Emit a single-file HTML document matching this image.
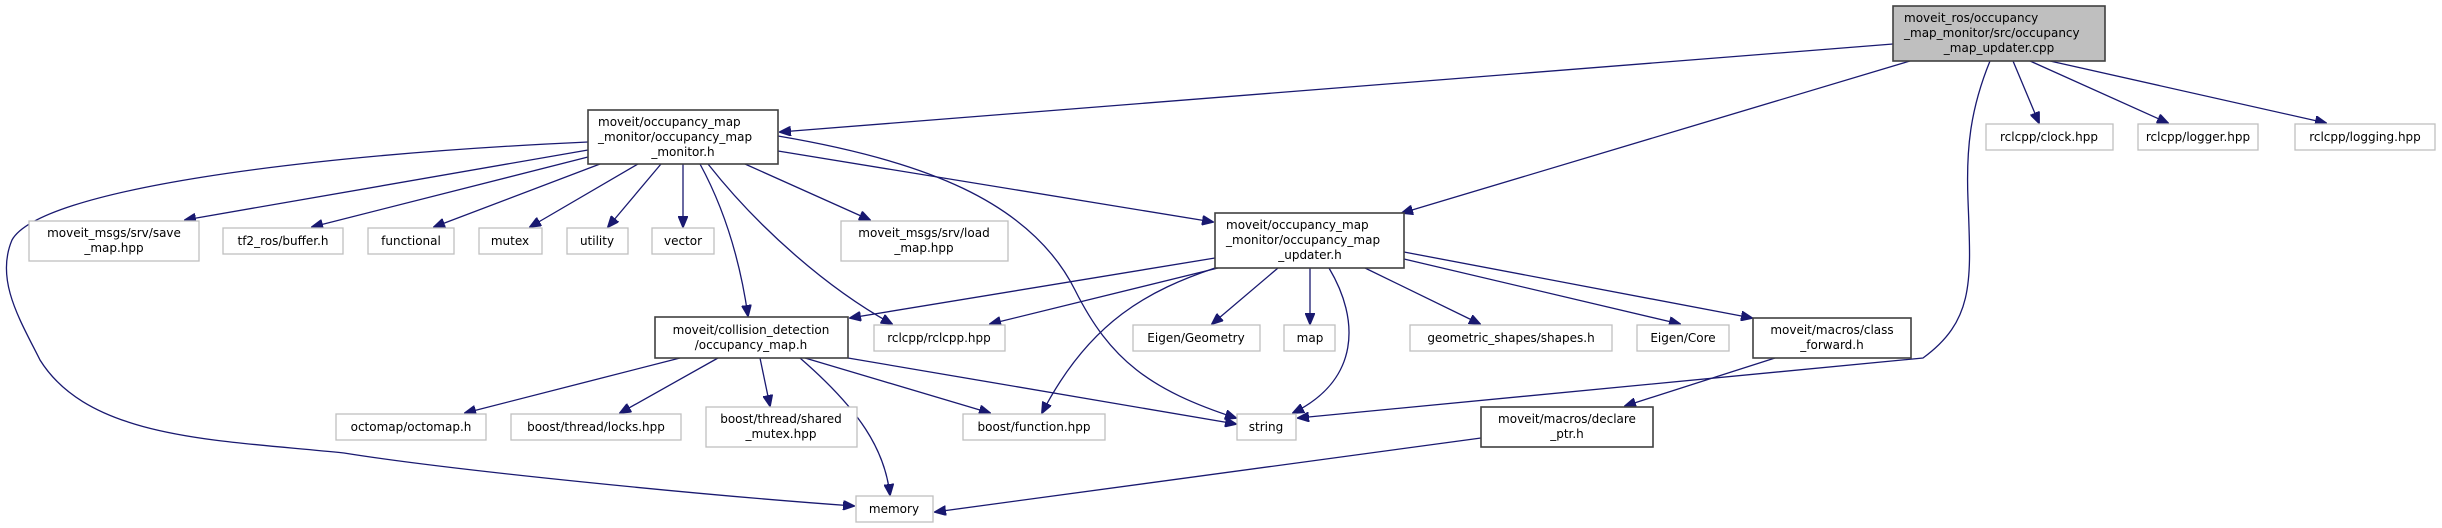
<!DOCTYPE html>
<html><head><meta charset="utf-8"><style>
html,body{margin:0;padding:0;background:#fff;}
svg{display:block;}
text{font-family:"DejaVu Sans","Liberation Sans",sans-serif;font-size:12px;fill:#000;}
.g{fill:#fff;stroke:#bfbfbf;stroke-width:1.3;}
.d{fill:#fff;stroke:#404040;stroke-width:1.6;}
.e{fill:none;stroke:#191970;stroke-width:1.3;marker-end:url(#a);}
</style></head><body>
<svg width="2442" height="528" viewBox="0 0 2442 528" xmlns="http://www.w3.org/2000/svg">
<defs><marker id="a" markerWidth="12" markerHeight="10" refX="11" refY="5" orient="auto" markerUnits="userSpaceOnUse"><path d="M0,0 L12,5 L0,10 z" fill="#191970" stroke="#191970"/></marker></defs>

<!-- edges -->
<path class="e" d="M1893,44 L780,132"/>
<path class="e" d="M1910,61 L1402,213"/>
<path class="e" d="M1990,61 C1970,110 1966,150 1968,200 C1971,280 1975,320 1923,358 L1298,418"/>
<path class="e" d="M2013,61 L2039,123"/>
<path class="e" d="M2030,61 L2168,123"/>
<path class="e" d="M2050,61 L2326,123"/>

<path class="e" d="M588,142 C300,155 40,190 12,240 C-5,280 20,320 40,360 C90,440 220,440 344,453 C450,470 700,495 854,506"/>
<path class="e" d="M588,150 L185,220"/>
<path class="e" d="M588,157 L312,227"/>
<path class="e" d="M600,164 L434,227"/>
<path class="e" d="M638,164 L530,227"/>
<path class="e" d="M661,164 L608,227"/>
<path class="e" d="M683,164 L683,227"/>
<path class="e" d="M700,164 C725,210 740,260 748,316"/>
<path class="e" d="M708,164 C760,230 830,290 892,324"/>
<path class="e" d="M745,164 L870,220"/>
<path class="e" d="M778,136 C920,160 1030,200 1075,290 C1110,360 1150,390 1236,418"/>
<path class="e" d="M778,151 L1213,222"/>

<path class="e" d="M1215,258 L850,318"/>
<path class="e" d="M1218,268 L990,324"/>
<path class="e" d="M1278,268 L1212,324"/>
<path class="e" d="M1310,268 L1310,324"/>
<path class="e" d="M1365,268 L1480,324"/>
<path class="e" d="M1404,259 L1680,324"/>
<path class="e" d="M1404,252 L1752,318"/>
<path class="e" d="M1329,268 C1360,320 1360,380 1293,413"/>
<path class="e" d="M1215,268 C1150,290 1090,320 1042,413"/>

<path class="e" d="M680,358 L465,413"/>
<path class="e" d="M718,358 L620,413"/>
<path class="e" d="M760,358 L770,406"/>
<path class="e" d="M805,358 L990,413"/>
<path class="e" d="M800,358 C860,410 885,450 890,495"/>
<path class="e" d="M848,358 L1236,424"/>
<path class="e" d="M1775,358 L1625,406"/>
<path class="e" d="M1481,438 L935,512"/>

<!-- nodes -->
<rect x="1893" y="6" width="212" height="55" fill="#bfbfbf" stroke="#404040" stroke-width="1.6"/>
<text x="1904" y="22">moveit_ros/occupancy</text>
<text x="1904" y="37">_map_monitor/src/occupancy</text>
<text x="1999" y="52" text-anchor="middle">_map_updater.cpp</text>

<rect class="g" x="1986" y="124" width="127" height="26"/><text x="2049" y="141" text-anchor="middle">rclcpp/clock.hpp</text>
<rect class="g" x="2138" y="124" width="120" height="26"/><text x="2198" y="141" text-anchor="middle">rclcpp/logger.hpp</text>
<rect class="g" x="2295" y="124" width="140" height="26"/><text x="2365" y="141" text-anchor="middle">rclcpp/logging.hpp</text>

<rect class="d" x="588" y="110" width="190" height="54"/>
<text x="598" y="126">moveit/occupancy_map</text>
<text x="598" y="141">_monitor/occupancy_map</text>
<text x="683" y="156" text-anchor="middle">_monitor.h</text>

<rect class="g" x="29" y="221" width="170" height="40"/><text x="114" y="237" text-anchor="middle">moveit_msgs/srv/save</text><text x="114" y="252" text-anchor="middle">_map.hpp</text>
<rect class="g" x="223" y="228" width="120" height="26"/><text x="283" y="245" text-anchor="middle">tf2_ros/buffer.h</text>
<rect class="g" x="368" y="228" width="86" height="26"/><text x="411" y="245" text-anchor="middle">functional</text>
<rect class="g" x="479" y="228" width="63" height="26"/><text x="510" y="245" text-anchor="middle">mutex</text>
<rect class="g" x="567" y="228" width="61" height="26"/><text x="597" y="245" text-anchor="middle">utility</text>
<rect class="g" x="652" y="228" width="62" height="26"/><text x="683" y="245" text-anchor="middle">vector</text>
<rect class="g" x="841" y="221" width="167" height="40"/><text x="924" y="237" text-anchor="middle">moveit_msgs/srv/load</text><text x="924" y="252" text-anchor="middle">_map.hpp</text>

<rect class="d" x="1215" y="213" width="189" height="55"/>
<text x="1226" y="229">moveit/occupancy_map</text>
<text x="1226" y="244">_monitor/occupancy_map</text>
<text x="1310" y="259" text-anchor="middle">_updater.h</text>

<rect class="d" x="655" y="317" width="193" height="41"/><text x="751" y="334" text-anchor="middle">moveit/collision_detection</text><text x="751" y="349" text-anchor="middle">/occupancy_map.h</text>
<rect class="g" x="874" y="325" width="131" height="26"/><text x="939" y="342" text-anchor="middle">rclcpp/rclcpp.hpp</text>
<rect class="g" x="1133" y="325" width="127" height="26"/><text x="1196" y="342" text-anchor="middle">Eigen/Geometry</text>
<rect class="g" x="1284" y="325" width="51" height="26"/><text x="1310" y="342" text-anchor="middle">map</text>
<rect class="g" x="1410" y="325" width="202" height="26"/><text x="1511" y="342" text-anchor="middle">geometric_shapes/shapes.h</text>
<rect class="g" x="1637" y="325" width="92" height="26"/><text x="1683" y="342" text-anchor="middle">Eigen/Core</text>
<rect class="d" x="1753" y="318" width="158" height="40"/><text x="1832" y="334" text-anchor="middle">moveit/macros/class</text><text x="1832" y="349" text-anchor="middle">_forward.h</text>

<rect class="g" x="336" y="414" width="150" height="26"/><text x="411" y="431" text-anchor="middle">octomap/octomap.h</text>
<rect class="g" x="511" y="414" width="170" height="26"/><text x="596" y="431" text-anchor="middle">boost/thread/locks.hpp</text>
<rect class="g" x="706" y="407" width="151" height="40"/><text x="781" y="423" text-anchor="middle">boost/thread/shared</text><text x="781" y="438" text-anchor="middle">_mutex.hpp</text>
<rect class="g" x="963" y="414" width="142" height="26"/><text x="1034" y="431" text-anchor="middle">boost/function.hpp</text>
<rect class="g" x="1237" y="414" width="59" height="26"/><text x="1266" y="431" text-anchor="middle">string</text>
<rect class="d" x="1481" y="407" width="172" height="40"/><text x="1567" y="423" text-anchor="middle">moveit/macros/declare</text><text x="1567" y="438" text-anchor="middle">_ptr.h</text>
<rect class="g" x="856" y="496" width="77" height="26"/><text x="894" y="513" text-anchor="middle">memory</text>
</svg>
</body></html>
